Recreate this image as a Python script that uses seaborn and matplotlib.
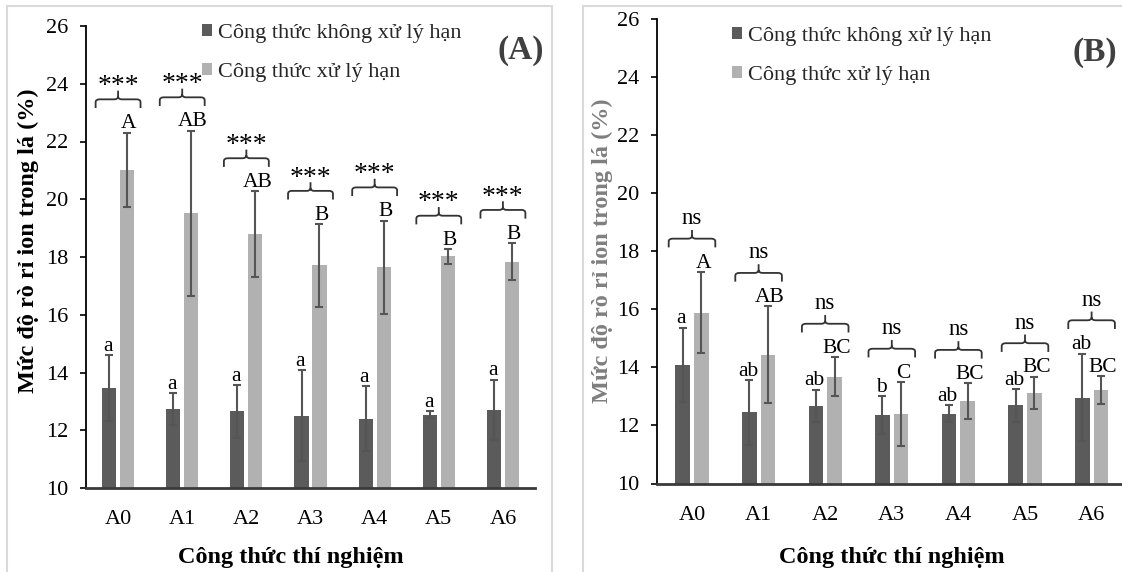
import numpy as np
import pandas as pd
import matplotlib
matplotlib.use("Agg")
import matplotlib.pyplot as plt
from matplotlib.path import Path
from matplotlib.patches import PathPatch
from matplotlib.lines import Line2D
import seaborn as sns

# ---------------- data ----------------
categories = ["A0", "A1", "A2", "A3", "A4", "A5", "A6"]
series_names = ["Công thức không xử lý hạn", "Công thức xử lý hạn"]

a_ctrl = [13.46, 12.74, 12.65, 12.51, 12.40, 12.54, 12.71]
a_ctrl_sd = [1.15, 0.55, 0.92, 1.56, 1.12, 0.11, 1.04]
a_drought = [21.02, 19.52, 18.79, 17.71, 17.64, 18.02, 17.84]
a_drought_sd = [1.29, 2.86, 1.48, 1.43, 1.62, 0.26, 0.64]
a_ctrl_letters = ["a", "a", "a", "a", "a", "a", "a"]
a_drought_letters = ["A", "AB", "AB", "B", "B", "B", "B"]
a_sig = ["***", "***", "***", "***", "***", "***", "***"]

b_ctrl = [14.09, 12.45, 12.67, 12.36, 12.40, 12.69, 12.96]
b_ctrl_sd = [1.28, 1.11, 0.56, 0.65, 0.29, 0.56, 1.51]
b_drought = [15.88, 14.44, 13.68, 12.39, 12.84, 13.12, 13.22]
b_drought_sd = [1.40, 1.66, 0.67, 1.10, 0.61, 0.56, 0.47]
b_ctrl_letters = ["a", "ab", "ab", "b", "ab", "ab", "ab"]
b_drought_letters = ["A", "AB", "BC", "C", "BC", "BC", "BC"]
b_sig = ["ns", "ns", "ns", "ns", "ns", "ns", "ns"]

y_ticks = [10, 12, 14, 16, 18, 20, 22, 24, 26]
y_label = "Mức độ rò rỉ ion trong lá (%)"
x_label = "Công thức thí nghiệm"

# ---------------- style ----------------
sns.set_theme(style="white")
plt.rcParams["font.family"] = ["Liberation Serif", "DejaVu Serif"]

W, H = 1122, 572
fig = plt.figure(figsize=(W / 100, H / 100), dpi=100)
fig.patch.set_facecolor("white")

DARK = "#5b5b5b"
LIGHT = "#b1b1b1"
ERR = "#555555"
FS = 16          # tick labels / legend
FS_LET = 15.5    # letters
FS_NS = 16.5     # ns
FS_STAR = 20     # asterisks
FS_TITLE = 17.5


def fx(px):
    return px / W


def fy(py):
    return 1 - py / H


def panel(ax, ctrl, ctrl_sd, dr, dr_sd, l_ctrl, l_dr, sig, xlim):
    df = pd.DataFrame({
        "cat": categories * 2,
        "grp": [series_names[0]] * len(categories) + [series_names[1]] * len(categories),
        "val": list(ctrl) + list(dr),
    })
    sns.barplot(data=df, x="cat", y="val", hue="grp", order=categories,
                hue_order=series_names, palette=[DARK, LIGHT], width=0.56,
                gap=0.214, errorbar=None, legend=False, ax=ax,
                edgecolor="none", linewidth=0, saturation=1)
    conts = ax.containers
    tops_all = []
    for cont, vals, sds, letters, nudge in [(conts[0], ctrl, ctrl_sd, l_ctrl, -0.02),
                                             (conts[1], dr, dr_sd, l_dr, 0.03)]:
        xs = [p.get_x() + p.get_width() / 2 for p in cont.patches]
        ax.errorbar(xs, vals, yerr=sds, fmt="none", ecolor=ERR, elinewidth=1.5,
                    capsize=3, capthick=1.5, zorder=3)
        tops = [v + s for v, s in zip(vals, sds)]
        tops_all.append(tops)
        for x, t, lab in zip(xs, tops, letters):
            ax.text(x + nudge, t + 0.15, lab, ha="center", va="baseline",
                    fontsize=FS_LET, color="black", zorder=4)
    # significance brackets
    w, h, r, rr = 0.35, 0.3, 0.06, 0.1
    for i, lab in enumerate(sig):
        y0 = max(tops_all[0][i], tops_all[1][i]) + 0.85
        x = i
        verts = [(x - w, y0), (x - w, y0 + h - rr), (x - w, y0 + h), (x - w + r, y0 + h),
                 (x - r, y0 + h), (x, y0 + h), (x, y0 + h + rr),
                 (x, y0 + 2 * h),
                 (x, y0 + h + rr), (x, y0 + h), (x + r, y0 + h),
                 (x + w - r, y0 + h), (x + w, y0 + h), (x + w, y0 + h - rr),
                 (x + w, y0)]
        codes = [Path.MOVETO, Path.LINETO, Path.CURVE3, Path.CURVE3,
                 Path.LINETO, Path.CURVE3, Path.CURVE3,
                 Path.LINETO,
                 Path.MOVETO, Path.CURVE3, Path.CURVE3,
                 Path.LINETO, Path.CURVE3, Path.CURVE3,
                 Path.LINETO]
        ax.add_patch(PathPatch(Path(verts, codes), fill=False, lw=1.3,
                               edgecolor="#333333", zorder=4))
        star = "*" in lab
        gap = -0.08 if star else 0.2
        ax.text(x, y0 + 2 * h + gap, lab, ha="center", va="baseline",
                fontsize=FS_STAR if star else FS_NS, color="black", zorder=4)

    ax.set_xlim(*xlim)
    ax.set_ylim(10, 26)
    ax.set_yticks(y_ticks)
    ax.set_xlabel("")
    ax.set_ylabel("")
    for s in ["top", "right"]:
        ax.spines[s].set_visible(False)
    ax.spines["left"].set_color("black")
    ax.spines["left"].set_linewidth(1.3)
    ax.spines["bottom"].set_color("#3a3a3a")
    ax.spines["bottom"].set_linewidth(2.0)
    ax.tick_params(axis="y", which="both", left=True, direction="out",
                   length=4.5, width=1.2, color="black", pad=8,
                   labelsize=FS, labelcolor="black")
    ax.tick_params(axis="x", bottom=False, pad=10, labelsize=FS,
                   labelcolor="black")
    ax.set_facecolor("white")
    ax.grid(False)
    return [conts[0], conts[1]]


# panel A
axA = fig.add_axes([fx(86), fy(488), fx(535) - fx(86), fy(26) - fy(488)])
hA = panel(axA, a_ctrl, a_ctrl_sd, a_drought, a_drought_sd,
           a_ctrl_letters, a_drought_letters, a_sig, (-0.5, 6.5))
# panel B
axB_left, axB_right = 656.5, 1121
axB = fig.add_axes([fx(axB_left), fy(483.5), fx(axB_right) - fx(axB_left),
                    fy(18.8) - fy(483.5)])
unitB = 66.6
hB = panel(axB, b_ctrl, b_ctrl_sd, b_drought, b_drought_sd,
           b_ctrl_letters, b_drought_letters, b_sig,
           (-0.533, -0.533 + (axB_right - axB_left) / unitB))

# legends
for ax, hnd, lx, cy in [(axA, hA, 202, 53), (axB, hB, 732, 56)]:
    ax.legend(hnd, series_names, loc="center left",
              bbox_to_anchor=(fx(lx), fy(cy)), bbox_transform=fig.transFigure,
              frameon=False, fontsize=FS, labelspacing=0.9, handlelength=0.45,
              handleheight=0.45, handletextpad=0.25, borderpad=0,
              borderaxespad=0)

# panel tags
fig.text(fx(521), fy(50), "(A)", ha="center", va="center", fontsize=24,
         fontweight="bold", color="#404040")
fig.text(fx(1095), fy(52), "(B)", ha="center", va="center", fontsize=24,
         fontweight="bold", color="#404040")

# axis titles
fig.text(fx(28.5), fy(241), y_label, rotation=90, ha="center", va="center",
         fontsize=FS_TITLE, fontweight="bold", color="black")
fig.text(fx(602.5), fy(251), y_label, rotation=90, ha="center", va="center",
         fontsize=FS_TITLE, fontweight="bold", color="#7f7f7f")
fig.text(fx(291), fy(557), x_label, ha="center", va="center",
         fontsize=FS_TITLE, fontweight="bold", color="black")
fig.text(fx(892), fy(557), x_label, ha="center", va="center",
         fontsize=FS_TITLE, fontweight="bold", color="black")

# panel frames
frame_c = "#d9d9d9"
for xs, ys in [([7, 7], [6, 580]), ([7, 552], [6, 6]), ([552, 552], [6, 580]),
               ([583, 583], [6, 580]), ([583, 1130], [6, 6])]:
    fig.add_artist(Line2D([fx(v) for v in xs], [fy(v) for v in ys],
                          transform=fig.transFigure, color=frame_c, lw=1.5))

fig.savefig("out.png", dpi=100, facecolor="white")
